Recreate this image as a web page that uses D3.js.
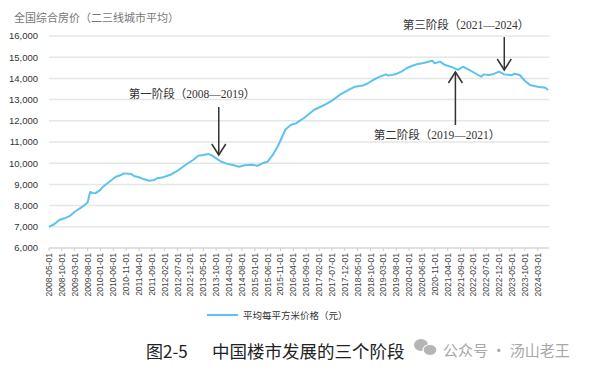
<!DOCTYPE html>
<html><head><meta charset="utf-8">
<script src="https://cdn.jsdelivr.net/npm/d3@7"></script>
<style>
html,body{margin:0;padding:0;background:#fff;}
svg{display:block;}
</style></head>
<body>
<svg id="c" width="593" height="370"></svg>
<script>
// Sample points: month (YYYY-MM) and average price per m² (yuan)
const months = ["2008-05","2008-07","2008-09","2008-11","2009-01","2009-03","2009-06","2009-08","2009-09","2009-10","2009-11","2010-01","2010-02","2010-05","2010-07","2010-09","2010-10","2011-01","2011-02","2011-04","2011-06","2011-08","2011-10","2011-11","2012-01","2012-03","2012-04","2012-07","2012-10","2013-01","2013-03","2013-05","2013-07","2013-08","2013-10","2013-12","2014-02","2014-04","2014-07","2014-09","2014-12","2015-02","2015-04","2015-06","2015-08","2015-10","2016-01","2016-03","2016-05","2016-07","2016-08","2016-12","2017-04","2017-07","2017-10","2018-02","2018-04","2018-07","2018-09","2018-11","2019-01","2019-04","2019-05","2019-08","2019-10","2019-12","2020-02","2020-04","2020-06","2020-07","2020-10","2020-11","2021-01","2021-03","2021-06","2021-08","2021-10","2021-12","2022-02","2022-05","2022-06","2022-08","2022-10","2022-12","2023-02","2023-05","2023-06","2023-08","2023-10","2023-12","2024-03","2024-06","2024-07"];
const prices = [7000,7120,7320,7400,7500,7710,7950,8150,8640,8600,8580,8740,8890,9175,9360,9440,9520,9490,9400,9335,9240,9175,9210,9290,9320,9410,9440,9646,9915,10150,10350,10390,10430,10390,10230,10070,9980,9930,9835,9900,9930,9880,9995,10070,10390,10810,11600,11800,11880,12040,12120,12510,12745,12950,13220,13490,13610,13660,13770,13925,14050,14190,14130,14210,14320,14480,14585,14665,14710,14740,14835,14710,14790,14630,14520,14400,14550,14430,14290,14080,14190,14160,14210,14320,14190,14150,14220,14160,13890,13690,13610,13560,13450];
const xTickLabels = ["2008-05-01","2008-10-01","2009-03-01","2009-08-01","2010-01-01","2010-06-01","2010-11-01","2011-04-01","2011-09-01","2012-02-01","2012-07-01","2012-12-01","2013-05-01","2013-10-01","2014-03-01","2014-08-01","2015-01-01","2015-06-01","2015-11-01","2016-04-01","2016-09-01","2017-02-01","2017-07-01","2017-12-01","2018-05-01","2018-10-01","2019-03-01","2019-08-01","2020-01-01","2020-06-01","2020-11-01","2021-04-01","2021-09-01","2022-02-01","2022-07-01","2022-12-01","2023-05-01","2023-10-01","2024-03-01"];
const yTicks = [6000,7000,8000,9000,10000,11000,12000,13000,14000,15000,16000];
const stageLabels = ["第一阶段（2008—2019）","第二阶段（2019—2021）","第三阶段（2021—2024）"];
const stageMonths = ["2013-11","2021-07","2023-02"];
const stageDirs = ["down","up","down"];

const mIdx = s => { const [y,m] = s.split("-").map(Number); return (y-2008)*12 + (m-5); };
const data = months.map((m,i)=>({x:mIdx(m), y:prices[i]}));

const svg = d3.select("#c");
const L = 49, R = 548, T = 36, B = 248;
const x = d3.scaleLinear().domain([0, mIdx("2024-07")]).range([L, R]);
const y = d3.scaleLinear().domain([6000,16000]).range([B, T]);

// title
svg.append("text").attr("x",14).attr("y",22)
  .attr("font-family","'Liberation Serif','Noto Sans CJK SC',serif").attr("font-size",11)
  .attr("fill","#777").text("全国综合房价（二三线城市平均）");

// gridlines
svg.append("g").selectAll("line").data(yTicks).join("line")
  .attr("x1",L).attr("x2",R+1).attr("y1",d=>y(d)).attr("y2",d=>y(d))
  .attr("stroke", d=>d===6000?"#d6d6d6":"#e6e6e6").attr("stroke-width",1.5);

// y axis labels
svg.append("g").selectAll("text").data(yTicks).join("text")
  .attr("x",38).attr("y",d=>y(d)).attr("dy","0.35em").attr("text-anchor","end")
  .attr("font-family","'Liberation Sans',Arial,sans-serif").attr("font-size",9.5)
  .attr("fill","#333").text(d=>d3.format(",")(d));

// x axis ticks + labels
const xa = svg.append("g");
xa.selectAll("line").data(xTickLabels).join("line")
  .attr("x1",d=>x(mIdx(d.slice(0,7)))).attr("x2",d=>x(mIdx(d.slice(0,7))))
  .attr("y1",B).attr("y2",B+3).attr("stroke","#ccc").attr("stroke-width",1);
xa.selectAll("text").data(xTickLabels).join("text")
  .attr("transform",d=>`translate(${x(mIdx(d.slice(0,7)))+3},${B+5}) rotate(-90)`)
  .attr("text-anchor","end")
  .attr("font-family","'Liberation Sans',Arial,sans-serif").attr("font-size",8.5)
  .attr("fill","#444").text(d=>d);

// line
svg.append("path").datum(data)
  .attr("d", d3.line().x(d=>x(d.x)).y(d=>y(d.y)))
  .attr("fill","none").attr("stroke","#5cc3ef").attr("stroke-width",2)
  .attr("stroke-linejoin","round");

// stage annotations
const ann = svg.append("g").attr("stroke","#333").attr("stroke-width",1.5).attr("fill","none");
const annText = svg.append("g").attr("font-family","'Liberation Serif','Noto Sans CJK SC',serif")
  .attr("font-size",11.5).attr("fill","#333").attr("text-anchor","middle");
const arrowSpec = [
  {tipY: 155, tailY: 107, textX: 192, textY: 98},
  {tipY: 72, tailY: 125, textX: 437, textY: 139},
  {tipY: 70, tailY: 37, textX: 466, textY: 29}
];
stageMonths.forEach((m,i)=>{
  const ax = x(mIdx(m));
  const s = arrowSpec[i];
  ann.append("line").attr("x1",ax).attr("x2",ax).attr("y1",s.tailY).attr("y2",s.tipY);
  const d = stageDirs[i]==="down" ? -1 : 1;
  ann.append("path").attr("d",`M${ax-7},${s.tipY+d*11}L${ax},${s.tipY}L${ax+7},${s.tipY+d*11}`);
  annText.append("text").attr("x",s.textX).attr("y",s.textY).text(stageLabels[i]);
});

// legend
svg.append("line").attr("x1",207).attr("x2",238).attr("y1",315).attr("y2",315)
  .attr("stroke","#5cc3ef").attr("stroke-width",2);
svg.append("text").attr("x",243).attr("y",318.5)
  .attr("font-family","'Liberation Serif','Noto Sans CJK SC',serif").attr("font-size",9.5)
  .attr("fill","#333").text("平均每平方米价格（元）");

// caption
svg.append("text").attr("x",146).attr("y",358)
  .attr("font-family","'Noto Sans CJK SC',sans-serif").attr("font-size",17)
  .attr("fill","#222").text("图2-5");
svg.append("text").attr("x",212).attr("y",358)
  .attr("font-family","'Noto Sans CJK SC',sans-serif").attr("font-size",17.5)
  .attr("fill","#222").text("中国楼市发展的三个阶段");

// watermark icon
const wm = svg.append("g").attr("fill","#b5b5b5");
wm.append("ellipse").attr("cx",421).attr("cy",345).attr("rx",7).attr("ry",6);
wm.append("ellipse").attr("cx",430).attr("cy",350).attr("rx",7).attr("ry",5.5).attr("stroke","#fff").attr("stroke-width",1.2);
svg.append("text").attr("x",443).attr("y",356)
  .attr("font-family","'Noto Sans CJK SC',sans-serif").attr("font-size",15)
  .attr("fill","#a8a8a8").text("公众号 · 汤山老王");
</script>
</body></html>
